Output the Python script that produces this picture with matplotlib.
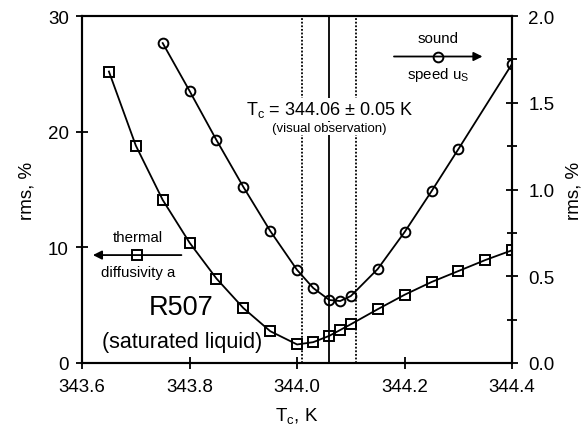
import matplotlib
matplotlib.use("Agg")
import matplotlib.pyplot as plt
import numpy as np

plt.rcParams['font.family'] = ['Liberation Sans', 'DejaVu Sans']

# thermal diffusivity (left axis, %)
t_a = [343.65, 343.70, 343.75, 343.80, 343.85, 343.90, 343.95, 344.00,
       344.03, 344.06, 344.08, 344.10, 344.15, 344.20, 344.25, 344.30, 344.35, 344.40]
rms_a = [25.2, 18.8, 14.1, 10.4, 7.3, 4.75, 2.75, 1.6,
         1.8, 2.35, 2.85, 3.35, 4.65, 5.9, 7.0, 7.95, 8.9, 9.75]

# speed of sound (right axis, %)
t_u = [343.75, 343.80, 343.85, 343.90, 343.95, 344.00, 344.03, 344.06,
       344.08, 344.10, 344.15, 344.20, 344.25, 344.30, 344.40]
rms_u = [1.844, 1.568, 1.285, 1.015, 0.761, 0.536, 0.432, 0.363,
         0.357, 0.386, 0.542, 0.755, 0.99, 1.233, 1.725]

tc = 344.06
tc_err = 0.05

fig = plt.figure(figsize=(5.86, 4.31), dpi=100)
ax = fig.add_axes([0.140, 0.1555, 0.734, 0.805])
ax2 = ax.twinx()

ax.plot(t_a, rms_a, color='black', lw=1.3, marker='s', ms=6.5,
        mfc='none', mec='black', mew=1.4)
ax2.plot(t_u, rms_u, color='black', lw=1.3, marker='o', ms=7,
         mfc='none', mec='black', mew=1.4)

ax.axvline(tc, color='black', lw=1.3)
ax.axvline(tc - tc_err, color='black', lw=1.3, ls=(0, (1, 1)))
ax.axvline(tc + tc_err, color='black', lw=1.3, ls=(0, (1, 1)))

ax.set_xlim(343.6, 344.4)
ax.set_ylim(0, 30)
ax2.set_ylim(0, 2.0)
ax.set_xticks([343.6, 343.8, 344.0, 344.2, 344.4])
ax.set_xticklabels(['343.6', '343.8', '344.0', '344.2', '344.4'])
ax.set_yticks([0, 10, 20, 30])
ax2.set_yticks([0.0, 0.5, 1.0, 1.5, 2.0])
ax2.set_yticklabels(['0.0', '0.5', '1.0', '1.5', '2.0'])
ax2.set_yticks(np.arange(0, 2.01, 0.25), minor=True)

for a in (ax, ax2):
    for s in a.spines.values():
        s.set_linewidth(1.5)
ax.tick_params(axis='x', direction='inout', length=9, width=1.3, labelsize=13.5, pad=6)
ax.tick_params(axis='y', direction='inout', length=9, width=1.3, labelsize=13.5, pad=5)
ax2.tick_params(axis='y', which='major', direction='inout', length=9, width=1.3, labelsize=13.5, pad=7)
ax2.tick_params(axis='y', which='minor', direction='inout', length=7, width=1.3)

ax.set_xlabel('T$_\\mathregular{c}$, K', fontsize=13.5, labelpad=8)
ax.set_ylabel('rms, %', fontsize=13.5, labelpad=9)
ax2.set_ylabel('rms, %', fontsize=13.5, labelpad=8)

ax.text(344.06, 21.95, 'T$_\\mathregular{c}$ = 344.06 ± 0.05 K', ha='center', va='center', fontsize=13,
        bbox=dict(fc='white', ec='none', pad=1))
ax.text(344.06, 20.3, '(visual observation)', ha='center', va='center', fontsize=9.5,
        bbox=dict(fc='white', ec='none', pad=0.5))

# legend-like annotations
ax.annotate('', xy=(344.35, 26.5), xytext=(344.175, 26.5),
            arrowprops=dict(arrowstyle='-|>', color='black', lw=1.3, mutation_scale=13))
ax.plot([344.262], [26.5], marker='o', ms=7, mfc='none', mec='black', mew=1.4)
ax.text(344.262, 28.1, 'sound', ha='center', va='center', fontsize=10.8)
ax.text(344.262, 25.0, 'speed u$_\\mathregular{S}$', ha='center', va='center', fontsize=10.8)

ax.annotate('', xy=(343.615, 9.33), xytext=(343.79, 9.33),
            arrowprops=dict(arrowstyle='-|>', color='black', lw=1.3, mutation_scale=13))
ax.plot([343.702], [9.33], marker='s', ms=6.5, mfc='none', mec='black', mew=1.4)
ax.text(343.704, 10.9, 'thermal', ha='center', va='center', fontsize=10.8)
ax.text(343.704, 7.9, 'diffusivity a', ha='center', va='center', fontsize=10.8)

ax.text(343.784, 4.84, 'R507', ha='center', va='center', fontsize=19.5)
ax.text(343.786, 1.9, '(saturated liquid)', ha='center', va='center', fontsize=15.5)

fig.savefig('out.png', dpi=100)
